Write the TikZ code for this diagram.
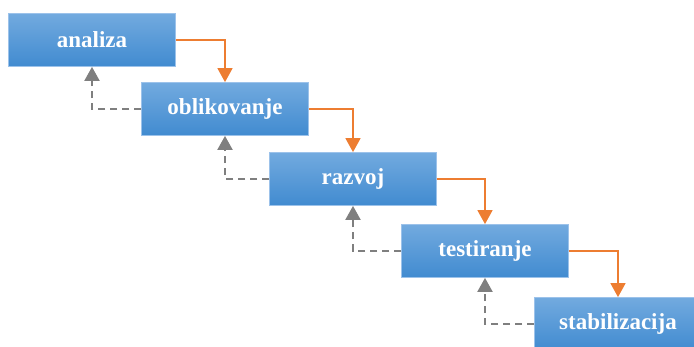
\documentclass[tikz,border=0pt]{standalone}
\usepackage{fontspec}
\setmainfont{Liberation Serif}
\usetikzlibrary{arrows.meta}
\definecolor{boxtop}{HTML}{72AADF}
\definecolor{boxbot}{HTML}{418BD0}
\definecolor{boxline}{HTML}{9CC2EA}
\definecolor{fwd}{HTML}{ED7D31}
\definecolor{back}{HTML}{7F7F7F}
\tikzset{
  phase/.style={draw=boxline, line width=0.8pt, top color=boxtop, bottom color=boxbot,
    minimum width=167pt, minimum height=53pt, inner sep=0pt, text=white,
    font=\bfseries\fontsize{23}{26}\selectfont},
  fwdarrow/.style={draw=fwd, line width=1.5pt, -{Triangle[length=14pt,width=15pt]}},
  backarrow/.style={draw=back, line width=2pt, dash pattern=on 7pt off 5pt,
    -{Triangle[length=14pt,width=15pt]}}
}
\begin{document}
\begin{tikzpicture}[x=1pt,y=-1pt]
    \clip (0,0) rectangle (694,346);
    \fill[white] (0,0) rectangle (694,346);
    % phases
    \node[phase] (analiza) at (92,40) {analiza};
    \node[phase] (oblik) at (225,109) {oblikovanje};
    \node[phase] (razvoj) at (353,179) {razvoj};
    \node[phase] (test) at (485,251) {testiranje};
    \node[phase] (stab) at (618,324) {stabilizacija};
    % forward
    \draw[fwdarrow] (analiza.east) -| (oblik.north);
    \draw[fwdarrow] (oblik.east) -| (razvoj.north);
    \draw[fwdarrow] (razvoj.east) -| (test.north);
    \draw[fwdarrow] (test.east) -| (stab.north);
    % feedback
    \draw[backarrow] (oblik.west) -| (analiza.south);
    \draw[backarrow] (razvoj.west) -| (oblik.south);
    \draw[backarrow] (test.west) -| (razvoj.south);
    \draw[backarrow] (stab.west) -| (test.south);
\end{tikzpicture}
\end{document}
